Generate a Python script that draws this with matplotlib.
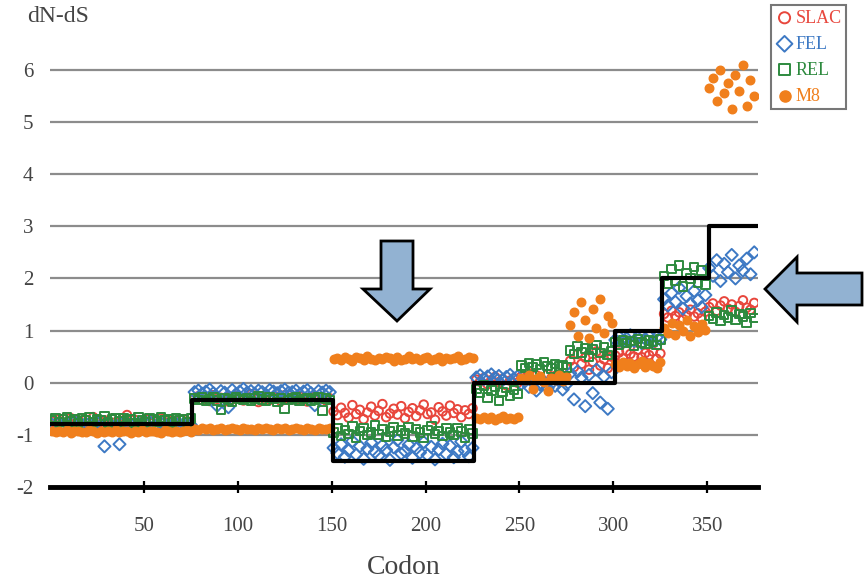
import matplotlib
matplotlib.use("Agg")
import matplotlib.pyplot as plt
from matplotlib.patches import Polygon

plt.rcParams['font.family'] = ['Liberation Serif', 'DejaVu Serif']
plt.rcParams['axes.unicode_minus'] = False

# codons sampled every 2nd position
codon = list(range(1, 376, 2))

slac = [-0.74,-0.78,-0.70,-0.81,-0.76,-0.68,-0.79,-0.73,-0.84,-0.71,
        -0.77,-0.66,-0.80,-0.75,-0.72,-0.83,-0.69,-0.76,-0.79,-0.74,
        -0.62,-0.78,-0.71,-0.85,-0.75,-0.70,-0.77,-0.73,-0.80,-0.68,
        -0.76,-0.72,-0.79,-0.74,-0.81,-0.70,-0.77,-0.75,
        -0.30,-0.26,-0.33,-0.28,-0.35,-0.24,-0.31,-0.29,-0.36,-0.27,
        -0.32,-0.25,-0.30,-0.34,-0.28,-0.22,-0.31,-0.37,-0.29,-0.26,
        -0.33,-0.30,-0.27,-0.35,-0.24,-0.31,-0.28,-0.33,-0.26,-0.30,
        -0.36,-0.29,-0.25,-0.32,-0.28,-0.34,-0.30,
        -0.55,-0.62,-0.48,-0.58,-0.67,-0.43,-0.60,-0.52,-0.70,-0.57,
        -0.46,-0.63,-0.54,-0.41,-0.66,-0.59,-0.50,-0.61,-0.45,-0.68,
        -0.56,-0.49,-0.64,-0.53,-0.42,-0.60,-0.57,-0.71,-0.47,-0.55,
        -0.63,-0.44,-0.58,-0.51,-0.66,-0.53,-0.60,-0.49,
        0.06,0.02,0.09,-0.03,0.05,0.11,0.01,0.07,-0.05,0.04,0.08,0.00,
        0.12,0.08,0.18,0.05,0.14,0.10,0.02,0.16,0.09,0.13,0.06,0.19,0.11,
        0.42,0.30,0.55,0.36,0.48,0.25,0.40,0.60,0.33,0.45,0.28,0.50,
        0.52,0.58,0.47,0.61,0.55,0.50,0.63,0.49,0.57,0.53,0.60,0.46,0.56,
        1.32,1.25,1.38,1.28,1.35,1.22,1.30,1.40,1.27,1.33,1.24,1.36,
        1.45,1.52,1.38,1.48,1.56,1.42,1.50,1.36,1.47,1.58,1.44,1.40,1.53]

fel = [-0.80,-0.84,-0.77,-0.82,-0.79,-0.86,-0.75,-0.81,-0.83,-0.78,
       -0.85,-0.80,-0.76,-0.82,-1.22,-0.79,-0.84,-0.81,-1.18,-0.77,
       -0.83,-0.80,-0.86,-0.78,-0.82,-0.79,-0.75,-0.84,-0.81,-0.77,
       -0.83,-0.80,-0.85,-0.78,-0.82,-0.79,-0.84,-0.81,
       -0.18,-0.15,-0.21,-0.17,-0.13,-0.20,-0.44,-0.16,-0.19,-0.47,
       -0.14,-0.22,-0.17,-0.12,-0.19,-0.16,-0.21,-0.15,-0.18,-0.23,
       -0.14,-0.17,-0.20,-0.16,-0.13,-0.19,-0.18,-0.15,-0.22,-0.17,
       -0.14,-0.20,-0.43,-0.16,-0.19,-0.15,-0.18,
       -1.25,-1.35,-1.18,-1.42,-1.30,-1.12,-1.38,-1.22,-1.46,-1.27,
       -1.15,-1.33,-1.40,-1.20,-1.29,-1.48,-1.24,-1.10,-1.36,-1.31,
       -1.19,-1.44,-1.26,-1.34,-1.14,-1.39,-1.23,-1.47,-1.28,-1.17,
       -1.37,-1.21,-1.43,-1.32,-1.13,-1.30,-1.41,-1.25,
       0.10,0.14,0.07,0.12,0.16,0.09,0.13,0.05,0.11,0.15,0.08,0.12,
       -0.02,0.03,-0.08,0.01,-0.15,-0.04,0.02,-0.10,-0.01,-0.06,0.04,-0.13,-0.03,
       0.18,-0.32,0.22,0.10,-0.45,0.15,-0.20,0.25,-0.38,0.12,-0.50,0.20,
       0.82,0.88,0.78,0.85,0.91,0.80,0.86,0.76,0.84,0.89,0.79,0.87,0.83,
       1.60,1.48,1.72,1.55,1.82,1.42,1.66,1.52,1.76,1.58,1.45,1.68,
       2.20,2.05,2.35,1.95,2.28,2.12,2.45,2.00,2.25,2.15,2.38,2.08,2.50]

rel = [-0.72,-0.68,-0.75,-0.70,-0.66,-0.74,-0.71,-0.77,-0.69,-0.73,
       -0.67,-0.75,-0.70,-0.72,-0.64,-0.76,-0.71,-0.69,-0.74,-0.68,
       -0.73,-0.70,-0.77,-0.66,-0.72,-0.75,-0.69,-0.71,-0.74,-0.67,
       -0.72,-0.70,-0.76,-0.68,-0.73,-0.71,-0.75,-0.69,
       -0.30,-0.33,-0.27,-0.35,-0.31,-0.28,-0.34,-0.52,-0.29,-0.32,
       -0.36,-0.27,-0.31,-0.33,-0.29,-0.35,-0.30,-0.26,-0.32,-0.34,
       -0.28,-0.31,-0.37,-0.29,-0.49,-0.33,-0.30,-0.27,-0.35,-0.31,
       -0.29,-0.34,-0.32,-0.28,-0.53,-0.30,-0.33,
       -0.95,-0.88,-1.02,-0.91,-0.98,-0.84,-1.05,-0.93,-0.87,-1.00,
       -0.96,-0.82,-0.99,-0.90,-1.04,-0.94,-0.86,-1.01,-0.92,-0.97,
       -0.85,-1.03,-0.89,-0.95,-1.06,-0.91,-0.83,-0.98,-0.93,-1.02,
       -0.88,-0.96,-1.00,-0.87,-0.94,-1.05,-0.90,-0.97,
       -0.12,-0.20,-0.05,-0.28,-0.15,-0.08,-0.35,-0.18,-0.10,-0.25,-0.14,-0.22,
       0.33,0.28,0.38,0.30,0.35,0.25,0.40,0.32,0.27,0.36,0.31,0.34,0.29,
       0.62,0.55,0.70,0.58,0.66,0.50,0.64,0.72,0.57,0.68,0.53,0.61,
       0.78,0.73,0.82,0.76,0.80,0.71,0.84,0.77,0.74,0.81,0.79,0.72,0.83,
       2.05,1.90,2.18,1.95,2.25,1.85,2.10,2.00,2.22,1.92,2.15,1.88,
       1.28,1.22,1.35,1.18,1.30,1.25,1.38,1.20,1.32,1.27,1.15,1.34,1.24]

m8 = [-0.93,-0.95,-0.92,-0.94,-0.91,-0.96,-0.93,-0.92,-0.95,-0.94,
      -0.91,-0.93,-0.96,-0.92,-0.94,-0.93,-0.95,-0.91,-0.94,-0.92,
      -0.93,-0.96,-0.92,-0.94,-0.91,-0.95,-0.93,-0.92,-0.94,-0.96,
      -0.91,-0.93,-0.95,-0.92,-0.94,-0.93,-0.91,-0.95,
      -0.88,-0.90,-0.87,-0.89,-0.86,-0.91,-0.88,-0.87,-0.90,-0.89,
      -0.86,-0.88,-0.91,-0.87,-0.89,-0.88,-0.90,-0.86,-0.89,-0.87,
      -0.88,-0.91,-0.87,-0.89,-0.86,-0.90,-0.88,-0.87,-0.89,-0.91,
      -0.86,-0.88,-0.90,-0.87,-0.89,-0.88,-0.87,
      0.45,0.48,0.43,0.50,0.46,0.42,0.49,0.47,0.44,0.51,
      0.46,0.43,0.48,0.45,0.50,0.47,0.42,0.49,0.44,0.46,
      0.51,0.45,0.48,0.43,0.47,0.50,0.44,0.46,0.49,0.42,
      0.48,0.45,0.47,0.51,0.44,0.46,0.49,0.47,
      -0.67,-0.70,-0.65,-0.69,-0.66,-0.71,-0.68,-0.64,-0.70,-0.67,-0.69,-0.66,
      0.10,0.05,0.15,-0.12,0.08,0.12,0.02,-0.15,0.09,0.06,0.14,0.03,0.11,
      1.10,1.35,0.90,1.55,1.20,0.85,1.42,1.05,1.60,0.95,1.28,1.15,
      0.35,0.30,0.40,0.32,0.38,0.28,0.36,0.42,0.31,0.37,0.33,0.29,0.39,
      1.05,0.95,1.15,0.92,1.10,1.00,1.20,0.90,1.08,0.98,1.12,1.02,
      5.65,5.85,5.40,6.00,5.55,5.75,5.25,5.90,5.60,6.10,5.30,5.80,5.50]

# true (simulated) dN-dS per codon block
true_edges = [1, 75.5, 150.5, 226, 301, 326, 351, 376]
true_levels = [-0.8, -0.33, -1.5, 0, 1, 2, 3]

W, H = 868, 583
fig = plt.figure(figsize=(W / 100, H / 100), dpi=100)
ax = fig.add_axes([50 / W, 1 - 487 / H, 708 / W, 438 / H])

red, blue, green, orange = '#e8463c', '#3d79c4', '#2d8a3e', '#f07f1c'
ms = 38
ax.scatter(codon, slac, s=ms, marker='o', facecolors='none', edgecolors=red, linewidths=1.4, label='SLAC', zorder=3)
ax.scatter(codon, fel, s=ms, marker='D', facecolors='none', edgecolors=blue, linewidths=1.4, label='FEL', zorder=3)
ax.scatter(codon, rel, s=ms, marker='s', facecolors='none', edgecolors=green, linewidths=1.4, label='REL', zorder=3)
ax.scatter(codon, m8, s=ms, marker='o', color=orange, edgecolors=orange, label='M8', zorder=3)

ax.step(true_edges, true_levels + [true_levels[-1]], where='post', color='black', lw=3, zorder=4)

ax.set_xlim(0, 377)
ax.set_ylim(-2, 6.4)
ax.set_yticks(range(-2, 7))
ax.set_yticklabels([str(v) for v in range(-2, 7)])
ax.set_xticks(range(50, 351, 50))
ax.yaxis.grid(True, color='#8c8c8c', lw=1.6)
ax.set_axisbelow(True)
for s in ['left', 'top', 'right']:
    ax.spines[s].set_visible(False)
ax.spines['bottom'].set_linewidth(3.5)
ax.tick_params(axis='y', length=0, pad=12, labelsize=15, labelcolor='#444')
ax.tick_params(axis='x', direction='inout', length=9, width=1.6, pad=17, labelsize=15, labelcolor='#444')
ax.set_xlabel('Codon', fontsize=20, color='#444', labelpad=14)
fig.text(27 / W, 1 - 17 / H, 'dN-dS', fontsize=17, color='#444', va='center', ha='left')

leg = fig.legend(loc='upper left', bbox_to_anchor=(771 / W, 1 - 5 / H), fontsize=13,
                 handletextpad=0.1, handlelength=1.0, borderpad=0.25, labelspacing=0.5,
                 borderaxespad=0, fancybox=False, edgecolor='#555', markerscale=1.3)
leg.get_frame().set_linewidth(1.5)
for t, c in zip(leg.get_texts(), [red, blue, green, orange]):
    t.set_color(c)

# highlight arrows (pixel coordinates of the annotation shapes)
def px(pts):
    return [(x / W, 1 - y / H) for x, y in pts]

down = [(381, 241), (413, 241), (413, 289), (430, 289), (397, 321), (363, 289), (381, 289)]
left = [(765, 289), (797, 257), (797, 273), (862, 273), (862, 305), (797, 305), (797, 322)]
for shape in (down, left):
    fig.patches.append(Polygon(px(shape), closed=True, transform=fig.transFigure,
                               facecolor='#92b2d2', edgecolor='black', lw=2, zorder=10))

fig.savefig('out.png', dpi=100)
